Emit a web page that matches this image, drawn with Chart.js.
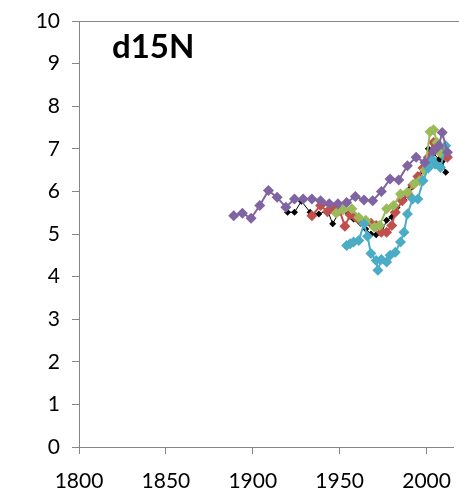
<!DOCTYPE html>
<html>
<head>
<meta charset="utf-8">
<script src="https://cdn.jsdelivr.net/npm/chart.js@4.4.0/dist/chart.umd.min.js"></script>
<style>
  html, body { margin: 0; padding: 0; background: #fff; }
  #wrap { width: 459px; height: 494px; }
</style>
</head>
<body>
<div id="wrap"><canvas id="chart"></canvas></div>
<script>
const xTicks = [1800, 1850, 1900, 1950, 2000];
const yTicks = [0, 1, 2, 3, 4, 5, 6, 7, 8, 9, 10];

const purpleYears = [1889, 1894, 1899, 1904, 1909, 1914, 1919, 1924, 1929, 1934, 1939, 1944, 1949, 1954, 1959, 1964, 1969, 1974, 1979, 1984, 1989, 1994, 1999, 2004, 2007, 2009, 2012];
const purpleVals  = [5.43, 5.49, 5.37, 5.67, 6.02, 5.86, 5.63, 5.82, 5.82, 5.82, 5.78, 5.71, 5.71, 5.74, 5.88, 5.80, 5.78, 6.00, 6.29, 6.27, 6.60, 6.80, 6.68, 6.95, 7.07, 7.38, 6.92];

const blackYears = [1920, 1924, 1928, 1933, 1938, 1943, 1946, 1950, 1955, 1958, 1962, 1965, 1968, 1971, 1974, 1977, 1980, 1983, 1987, 1990, 1993, 1996, 1999, 2001, 2004, 2007, 2009, 2011];
const blackVals  = [5.51, 5.51, 5.77, 5.51, 5.47, 5.55, 5.24, 5.55, 5.47, 5.35, 5.25, 5.12, 5.00, 4.98, 5.02, 5.32, 5.40, 5.62, 5.80, 6.05, 6.20, 6.35, 6.55, 7.00, 6.90, 6.75, 6.70, 6.45];

const redYears = [1934, 1939, 1943, 1946, 1950, 1953, 1956, 1959, 1962, 1965, 1968, 1971, 1974, 1977, 1980, 1982, 1986, 1989, 1992, 1995, 1998, 2001, 2004, 2006, 2008, 2010, 2012];
const redVals  = [5.43, 5.67, 5.52, 5.60, 5.55, 5.18, 5.45, 5.40, 5.30, 5.28, 5.25, 5.20, 5.04, 5.04, 5.20, 5.51, 5.78, 5.95, 6.15, 6.35, 6.55, 6.80, 7.15, 7.05, 6.96, 6.85, 6.80];

const greenYears = [1948, 1952, 1957, 1961, 1965, 1970, 1973, 1977, 1981, 1985, 1989, 1993, 1996, 1999, 2002, 2004, 2006, 2008];
const greenVals  = [5.49, 5.57, 5.59, 5.39, 5.32, 5.16, 5.20, 5.59, 5.67, 5.94, 5.98, 6.18, 6.25, 6.50, 7.40, 7.45, 7.15, 6.90];

const cyanYears = [1954, 1956, 1958, 1961, 1964, 1966, 1968, 1971, 1972, 1974, 1977, 1979, 1982, 1985, 1987, 1989, 1992, 1995, 1998, 2001, 2003, 2005, 2008, 2011];
const cyanVals  = [4.73, 4.77, 4.81, 4.85, 5.24, 4.95, 4.54, 4.38, 4.15, 4.40, 4.34, 4.50, 4.57, 4.81, 5.04, 5.47, 5.82, 5.82, 6.25, 6.55, 6.76, 6.64, 6.56, 7.07];

function pairs(xs, ys) {
    return xs.map((x, i) => ({ x: x, y: ys[i] }));
}

function series(label, xs, ys, color, radius, width) {
    return {
        label: label,
        data: pairs(xs, ys),
        showLine: true,
        borderColor: color,
        backgroundColor: color,
        borderWidth: width,
        pointStyle: 'rectRot',
        pointRadius: radius,
        pointBorderWidth: 0
    };
}

// draws the frame line at the top and the panel title
const decorations = {
    id: 'decorations',
    afterDraw(chart) {
        const ctx = chart.ctx;
        const area = chart.chartArea;
        ctx.save();
        ctx.strokeStyle = '#868686';
        ctx.lineWidth = 1;
        ctx.beginPath();
        ctx.moveTo(area.left, area.top + 0.5);
        ctx.lineTo(chart.width, area.top + 0.5);
        ctx.stroke();
        ctx.fillStyle = '#000';
        ctx.font = 'bold 33px Lato';
        ctx.textBaseline = 'alphabetic';
        ctx.fillText('d15N', area.left + 33, area.top + 37);
        ctx.restore();
    }
};

new Chart(document.getElementById('chart'), {
    type: 'scatter',
    data: {
        datasets: [
            series('purple', purpleYears, purpleVals, '#8064A2', 5.5, 2),
            series('cyan', cyanYears, cyanVals, '#4BACC6', 5.5, 2),
            series('green', greenYears, greenVals, '#9BBB59', 5.5, 2),
            series('red', redYears, redVals, '#C0504D', 5.5, 2),
            series('black', blackYears, blackVals, '#000000', 3.5, 1)
        ]
    },
    options: {
        responsive: true,
        maintainAspectRatio: false,
        animation: false,
        layout: { padding: { top: 21, right: 0, left: 0, bottom: 0 } },
        plugins: {
            legend: { display: false },
            tooltip: { enabled: false }
        },
        scales: {
            x: {
                type: 'linear',
                min: 1800,
                max: 2015.5,
                afterBuildTicks: (scale) => { scale.ticks = xTicks.map(v => ({ value: v })); },
                afterFit: (scale) => {
                    scale.height = 47;
                    scale.paddingLeft = 0;
                    scale.paddingRight = 0;
                },
                ticks: {
                    color: '#000',
                    font: { family: 'Lato', size: 21 },
                    padding: 15,
                    maxRotation: 0,
                    callback: (v) => String(v)
                },
                grid: {
                    drawOnChartArea: false,
                    drawTicks: true,
                    tickLength: 7,
                    color: '#868686'
                },
                border: { color: '#868686', width: 1 }
            },
            y: {
                min: 0,
                max: 10,
                afterBuildTicks: (scale) => { scale.ticks = yTicks.map(v => ({ value: v })); },
                afterFit: (scale) => {
                    scale.width = 79;
                    scale.paddingTop = 0;
                    scale.paddingBottom = 0;
                },
                ticks: {
                    color: '#000',
                    font: { family: 'Lato', size: 21 },
                    padding: 12
                },
                grid: {
                    drawOnChartArea: false,
                    drawTicks: true,
                    tickLength: 7,
                    color: '#868686'
                },
                border: { color: '#868686', width: 1 }
            }
        }
    },
    plugins: [decorations]
});
</script>
</body>
</html>
